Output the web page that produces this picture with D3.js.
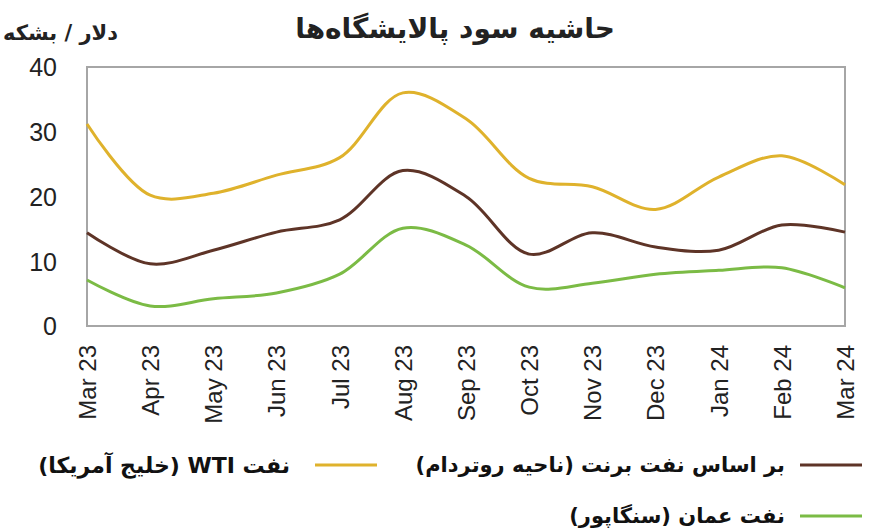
<!DOCTYPE html>
<html><head><meta charset="utf-8">
<script src="https://cdn.jsdelivr.net/npm/d3@7"></script>
<style>body{margin:0;background:#fff}</style>
</head><body>
<svg id="c" width="870" height="529"></svg>
<script>
const months = ["Mar 23","Apr 23","May 23","Jun 23","Jul 23","Aug 23","Sep 23","Oct 23","Nov 23","Dec 23","Jan 24","Feb 24","Mar 24"];
const wti   = [31.2,20.2,20.5,23.3,26.0,36.0,32.0,22.8,21.5,18.0,23.0,26.3,21.8];
const brent = [14.4,9.6,11.7,14.5,16.4,24.0,20.0,11.1,14.4,12.2,11.7,15.6,14.5];
const oman  = [7.1,3.1,4.2,5.1,8.0,15.1,12.5,6.0,6.6,8.0,8.6,9.0,5.9];
const yTicks = [0,10,20,30,40];
const title = "حاشیه سود پالایشگاه‌ها";
const unitLabel = "دلار / بشکه";
const seriesNames = ["بر اساس نفت برنت (ناحیه روتردام)","نفت WTI (خلیج آمریکا)","نفت عمان (سنگاپور)"];

const svg = d3.select("#c");
const L=87,R=845,T=67,B=326;
const x = d3.scalePoint().domain(months).range([L,R]);
const y = d3.scaleLinear().domain([0,40]).range([B,T]);
const arFont = "'DejaVu Sans', 'Noto Sans', sans-serif";

svg.append("text").attr("x",455).attr("y",38).attr("text-anchor","middle")
  .attr("font-family",arFont).attr("font-weight","bold").attr("font-size",28).attr("fill","#222").text(title);
svg.append("text").attr("x",118).attr("y",40).attr("text-anchor","start").attr("direction","rtl")
  .attr("font-family",arFont).attr("font-weight","bold").attr("font-size",21).attr("fill","#222").text(unitLabel);

// y axis labels
const ya = svg.append("g").attr("transform",`translate(${L-30},0)`)
  .call(d3.axisLeft(y).tickValues(yTicks).tickSize(0).tickPadding(0));
ya.select(".domain").remove();
ya.selectAll("text").attr("font-family","'Liberation Sans', Arial, sans-serif").attr("font-size",25).attr("fill","#222").attr("dy","0.35em");

// x axis labels
const xa = svg.append("g").attr("transform",`translate(0,${B+19})`)
  .call(d3.axisBottom(x).tickSize(0).tickPadding(0));
xa.select(".domain").remove();
xa.selectAll("text").attr("font-family","'Liberation Sans', Arial, sans-serif").attr("font-size",24).attr("fill","#222")
  .attr("transform","rotate(-90)").attr("text-anchor","end").attr("x",0).attr("y",0).attr("dy","0.35em");

// plot border
svg.append("rect").attr("x",L).attr("y",T).attr("width",R-L).attr("height",B-T)
  .attr("fill","none").attr("stroke","#a6a6a6").attr("stroke-width",2);

const line = d3.line().x((d,i)=>x(months[i])).y(d=>y(d)).curve(d3.curveCatmullRom.alpha(0.5));
const series = [
  {v:wti, c:"#dfb22c"},
  {v:brent, c:"#5e3427"},
  {v:oman, c:"#7bbb45"}
];
series.forEach(s=>{
  svg.append("path").datum(s.v).attr("d",line).attr("fill","none").attr("stroke",s.c).attr("stroke-width",3);
});

// legend
const leg = [
  {name:seriesNames[0], c:"#5e3427", lx:800, tx:785, y:465, fs:21},
  {name:seriesNames[1], c:"#dfb22c", lx:315, tx:290, y:465, fs:22},
  {name:seriesNames[2], c:"#7bbb45", lx:800, tx:785, y:516, fs:21}
];
leg.forEach(l=>{
  svg.append("line").attr("x1",l.lx).attr("x2",l.lx+62).attr("y1",l.y).attr("y2",l.y).attr("stroke",l.c).attr("stroke-width",3);
  svg.append("text").attr("x",l.tx).attr("y",l.y).attr("dy","0.35em").attr("text-anchor","start").attr("direction","rtl")
    .attr("font-family",arFont).attr("font-weight","bold").attr("font-size",l.fs).attr("fill","#111").text(l.name);
});
</script>
</body></html>
